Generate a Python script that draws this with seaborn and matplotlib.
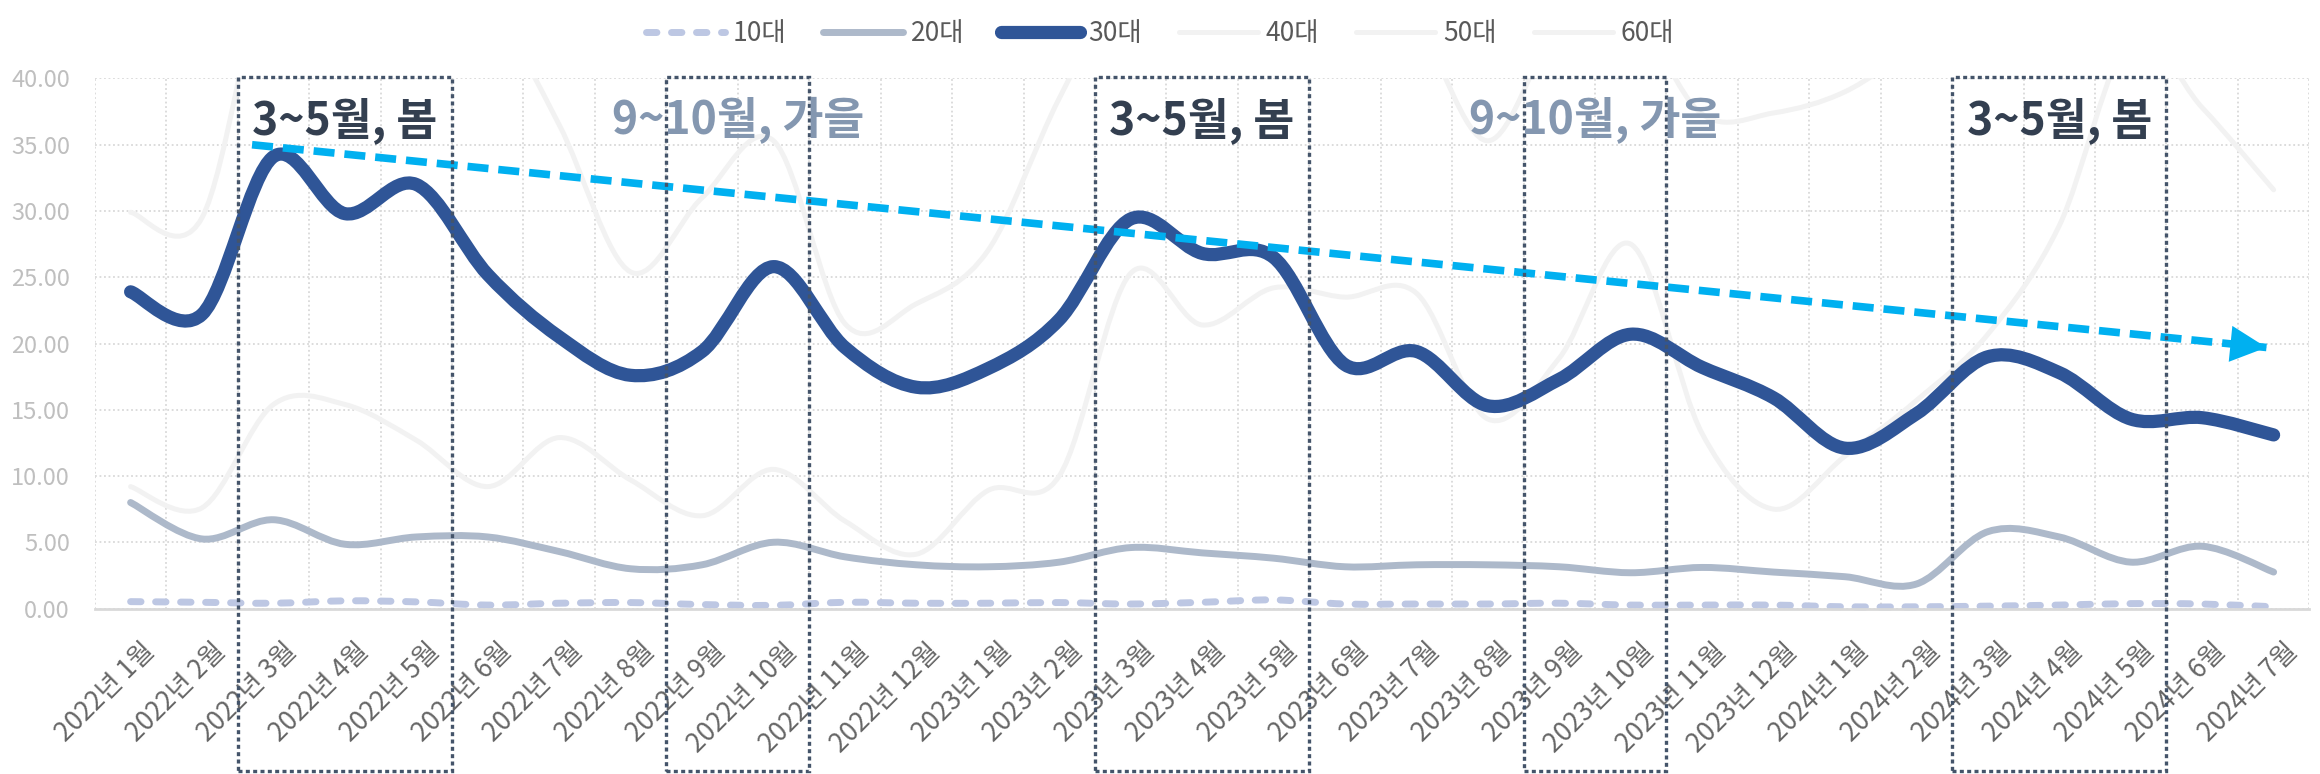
import numpy as np
import seaborn as sns
import matplotlib.pyplot as plt
from matplotlib.path import Path
from matplotlib.patches import PathPatch, Rectangle
from matplotlib.lines import Line2D
from matplotlib.transforms import ScaledTranslation

# month labels (x axis)
months = ['2022년 1월', '2022년 2월', '2022년 3월', '2022년 4월', '2022년 5월', '2022년 6월',
          '2022년 7월', '2022년 8월', '2022년 9월', '2022년 10월', '2022년 11월', '2022년 12월',
          '2023년 1월', '2023년 2월', '2023년 3월', '2023년 4월', '2023년 5월', '2023년 6월',
          '2023년 7월', '2023년 8월', '2023년 9월', '2023년 10월', '2023년 11월', '2023년 12월',
          '2024년 1월', '2024년 2월', '2024년 3월', '2024년 4월', '2024년 5월', '2024년 6월',
          '2024년 7월']

# values per age group (%)
age10 = [0.52, 0.47, 0.40, 0.58, 0.50, 0.26, 0.40, 0.45, 0.30, 0.24, 0.47, 0.40, 0.40, 0.45,
         0.34, 0.47, 0.65, 0.34, 0.34, 0.34, 0.40, 0.26, 0.26, 0.26, 0.13, 0.13, 0.18, 0.26,
         0.37, 0.34, 0.13]
age20 = [8.0, 5.25, 6.7, 4.85, 5.4, 5.4, 4.3, 3.0, 3.3, 5.0, 3.9, 3.3, 3.15, 3.5, 4.6, 4.2,
         3.8, 3.15, 3.3, 3.3, 3.15, 2.7, 3.1, 2.75, 2.4, 1.85, 5.8, 5.4, 3.5, 4.7, 2.75]
age30 = [23.9, 22.2, 34.1, 29.8, 32.0, 25.2, 20.5, 17.6, 19.4, 25.8, 19.7, 16.7, 18.1, 21.8,
         29.4, 26.8, 26.5, 18.4, 19.4, 15.3, 17.3, 20.7, 18.2, 15.9, 12.1, 14.7, 19.0, 17.8,
         14.3, 14.4, 13.1]
age40 = [46.0, 48.0, 50.0, 51.0, 50.0, 46.0, 36.5, 25.4, 31.0, 35.3, 21.5, 23.0, 27.0, 38.5,
         48.0, 50.0, 49.0, 47.0, 44.0, 35.3, 44.0, 45.0, 37.3, 37.4, 39.0, 42.5, 46.0, 48.0,
         49.0, 48.0, 47.0]
age50 = [9.2, 7.6, 15.4, 15.4, 12.7, 9.2, 12.9, 9.7, 7.0, 10.5, 6.6, 4.1, 8.9, 10.0, 25.3,
         21.4, 24.2, 23.5, 23.8, 14.3, 18.9, 27.5, 13.2, 7.5, 11.5, 15.7, 20.7, 28.9, 43.0,
         37.8, 31.6]
age60 = [29.9, 29.5, 50.0, 52.0, 53.0, 54.0, 55.0, 55.0, 54.0, 53.0, 54.0, 55.0, 56.0, 57.0,
         58.0, 57.0, 56.0, 55.0, 54.0, 54.0, 53.0, 54.0, 55.0, 56.0, 57.0, 58.0, 57.0, 56.0,
         55.0, 54.0, 53.0]

# highlighted seasons
spring = [('2022년 3월', '2022년 5월'), ('2023년 3월', '2023년 5월'), ('2024년 3월', '2024년 5월')]
autumn = [('2022년 9월', '2022년 10월'), ('2023년 9월', '2023년 10월')]
spring_label = '3~5월, 봄'
autumn_label = '9~10월, 가을'

# trend arrow (x in month positions, y in %)
trend_pos = [1.7, 29.9]
trend_val = [35.0, 19.7]

sns.set_theme(style='white')
plt.rcParams['font.family'] = ['Noto Sans CJK KR', 'DejaVu Sans']


def smooth_path(x, y):
    # Excel-like smoothed line: cubic bezier through every point
    pts = np.column_stack([np.asarray(x, float), np.asarray(y, float)])
    n = len(pts)
    verts = [pts[0]]
    codes = [Path.MOVETO]
    for i in range(n - 1):
        p0 = pts[i - 1] if i > 0 else pts[i]
        p1, p2 = pts[i], pts[i + 1]
        p3 = pts[i + 2] if i + 2 < n else pts[i + 1]
        verts += [p1 + (p2 - p0) / 6, p2 - (p3 - p1) / 6, p2]
        codes += [Path.CURVE4] * 3
    return Path(verts, codes)


fig = plt.figure(figsize=(23.2, 7.74), dpi=100)
ax = fig.add_axes([0.0409, 0.2138, 0.9545, 0.6848])

x = np.arange(len(months))
light = '#F2F2F2'
series = [
    ('60대', age60, dict(color=light, lw=3.6, ls='-', clip=True)),
    ('50대', age50, dict(color=light, lw=3.6, ls='-', clip=True)),
    ('40대', age40, dict(color=light, lw=3.6, ls='-', clip=True)),
    ('10대', age10, dict(color='#BDC7E3', lw=5.0, ls=(0, (1.5, 2.1)), clip=False)),
    ('20대', age20, dict(color='#ADB9CA', lw=5.0, ls='-', clip=False)),
    ('30대', age30, dict(color='#2F5597', lw=9.5, ls='-', clip=False)),
]
for name, vals, st in series:
    patch = PathPatch(smooth_path(x, vals), facecolor='none', edgecolor=st['color'],
                      lw=st['lw'], linestyle=st['ls'], capstyle='round', joinstyle='round')
    ax.add_patch(patch)
    patch.set_clip_on(st['clip'])

ax.set_xlim(-0.5, len(months) - 0.5)
ax.set_ylim(0, 40)

# trend line + arrow head
sns.lineplot(x=trend_pos, y=trend_val, ax=ax, color='#00B0F0', lw=5.5,
             linestyle=(0, (2.75, 1.3)), solid_capstyle='butt')
tip = np.array([trend_pos[1], trend_val[1]])
back = tip - 0.04 * (tip - np.array([trend_pos[0], trend_val[0]]))
ax.annotate('', xy=tip, xytext=back,
            arrowprops=dict(arrowstyle='-|>,head_length=1.0,head_width=0.5', mutation_scale=26,
                            color='#00B0F0', lw=0, shrinkA=0, shrinkB=0))

# season boxes and labels
for group, label, tcolor in [(spring, spring_label, '#333F50'), (autumn, autumn_label, '#8497B0')]:
    for first, last in group:
        i0, i1 = months.index(first), months.index(last)
        ax.add_patch(Rectangle((i0 - 0.5, -0.307), i1 - i0 + 1, 1.31,
                               transform=ax.get_xaxis_transform(), fill=False,
                               edgecolor='#44546A', lw=2.4, linestyle=(0, (1.2, 1.0)),
                               clip_on=False, zorder=5))
        ax.text((i0 + i1) / 2, 35.8, label, ha='center', va='baseline', fontsize=32,
                fontweight='bold', color=tcolor, zorder=6)

# grid
ax.set_yticks(np.arange(0, 41, 5))
ax.set_yticklabels([f'{v:.2f}' for v in np.arange(0, 41, 5)])
ax.set_xticks(x)
ax.set_xticklabels(months)
ax.set_xticks(np.arange(-0.5, len(months)), minor=True)
ax.grid(axis='y', which='major', color='#D9D9D9', linestyle=(0, (1, 1.5)), lw=1.3)
ax.grid(axis='x', which='minor', color='#D9D9D9', linestyle=(0, (1, 1.5)), lw=1.3)
ax.grid(axis='x', which='major', visible=False)
ax.set_axisbelow(True)

for side in ['left', 'right', 'top']:
    ax.spines[side].set_visible(False)
ax.spines['bottom'].set_color('#D9D9D9')
ax.spines['bottom'].set_linewidth(2)

ax.tick_params(axis='both', which='both', length=0)
ax.tick_params(axis='y', labelsize=17, labelcolor='#BFBFBF', pad=18)
ax.tick_params(axis='x', labelsize=19, labelcolor='#666666', pad=21)
shift = ScaledTranslation(0.10, 0, fig.dpi_scale_trans)
for lab in ax.get_xticklabels():
    lab.set_rotation(45)
    lab.set_ha('right')
    lab.set_va('top')
    lab.set_rotation_mode('anchor')
    lab.set_fontweight('light')
    lab.set_transform(lab.get_transform() + shift)

# legend
handles = [
    Line2D([], [], color='#BDC7E3', lw=5.0, linestyle=(0, (1.5, 2.1)), dash_capstyle='round'),
    Line2D([], [], color='#ADB9CA', lw=5.0, solid_capstyle='round'),
    Line2D([], [], color='#2F5597', lw=9.5, solid_capstyle='round'),
    Line2D([], [], color=light, lw=3.6, solid_capstyle='round'),
    Line2D([], [], color=light, lw=3.6, solid_capstyle='round'),
    Line2D([], [], color=light, lw=3.6, solid_capstyle='round'),
]
fig.legend(handles, ['10대', '20대', '30대', '40대', '50대', '60대'], loc='upper center',
           bbox_to_anchor=(0.5, 1.005), ncol=6, frameon=False, fontsize=19,
           handlelength=3.0, handletextpad=0.3, columnspacing=1.4, labelcolor='#595959')

fig.savefig('out.png', dpi=100)
